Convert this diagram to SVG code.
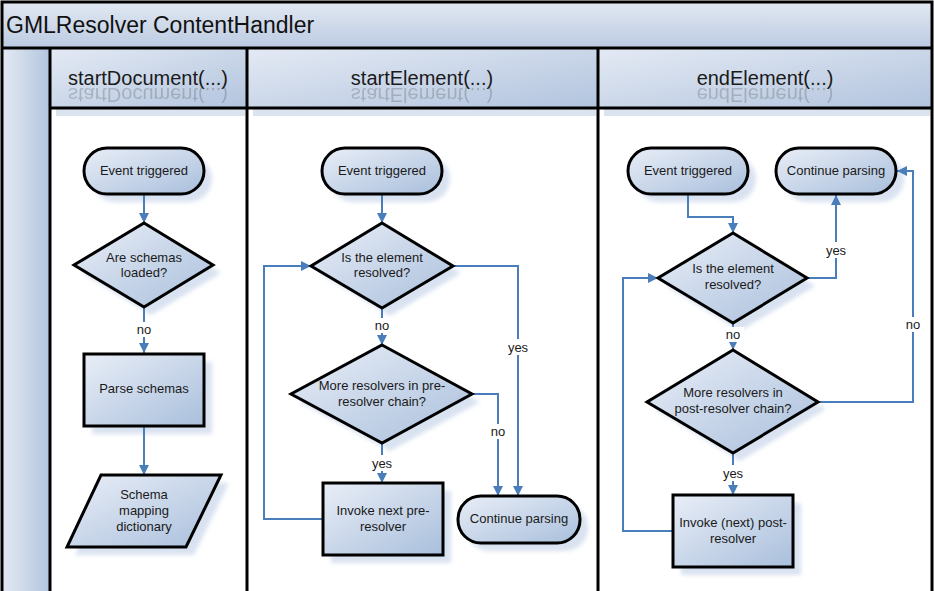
<svg xmlns="http://www.w3.org/2000/svg" width="934" height="591" viewBox="0 0 934 591">
<defs>
  <linearGradient id="gNode" x1="0" y1="0" x2="1" y2="1">
    <stop offset="0" stop-color="#e9eef7"/>
    <stop offset="1" stop-color="#a9bfdc"/>
  </linearGradient>
  <linearGradient id="gTitle" x1="0" y1="0" x2="0" y2="1">
    <stop offset="0" stop-color="#e1e8f2"/>
    <stop offset="1" stop-color="#bccbe2"/>
  </linearGradient>
  <linearGradient id="gHead" x1="0" y1="0" x2="1" y2="1">
    <stop offset="0" stop-color="#e4eaf4"/>
    <stop offset="1" stop-color="#b2c4de"/>
  </linearGradient>
  <linearGradient id="gStrip" x1="0" y1="0" x2="1" y2="0">
    <stop offset="0" stop-color="#e3e9f3"/>
    <stop offset="1" stop-color="#b3c5de"/>
  </linearGradient>
  <filter id="blur" x="-20%" y="-20%" width="140%" height="140%">
    <feGaussianBlur stdDeviation="2"/>
  </filter>
  <marker id="arr" markerUnits="userSpaceOnUse" markerWidth="11" markerHeight="11" refX="10" refY="5" orient="auto">
    <path d="M0,0 L10,5 L0,10 z" fill="#4a7ebb"/>
  </marker>
  <clipPath id="clipRefl" clipPathUnits="userSpaceOnUse">
    <rect x="52" y="87" width="878" height="20"/>
  </clipPath>
</defs>
<style>
  .frame { fill: none; stroke: #000; stroke-width: 3; }
  .node { fill: url(#gNode); stroke: #000; stroke-width: 3; }
  .shadow { fill: #c9d6ea; opacity: 0.7; filter: url(#blur); }
  .t { font-family: "Liberation Sans", Arial, sans-serif; font-size: 13px; fill: #1a1a1a; text-anchor: middle; }
  .lbl { font-family: "Liberation Sans", Arial, sans-serif; font-size: 13px; fill: #1a1a1a; text-anchor: middle; }
  .head { font-family: "Liberation Sans", Arial, sans-serif; font-size: 20px; fill: #1a1a1a; text-anchor: middle; }
  .title { font-family: "Liberation Sans", Arial, sans-serif; font-size: 23px; fill: #111; }
  .ca { fill: none; stroke: #4a7ebb; stroke-width: 2; marker-end: url(#arr); }
  .bg { fill: #fff; }
  .refl { opacity: 0.2; }
</style>

<rect x="0" y="0" width="934" height="591" fill="#fff"/>

<g id="pool">
  <rect x="2" y="2" width="930" height="46" fill="url(#gTitle)"/>
  <rect x="3" y="48" width="46" height="545" fill="url(#gStrip)"/>
  <rect x="50" y="48" width="197" height="60" fill="url(#gHead)"/>
  <rect x="247" y="48" width="351" height="60" fill="url(#gHead)"/>
  <rect x="598" y="48" width="334" height="60" fill="url(#gHead)"/>
  <rect x="56" y="109" width="189" height="7" fill="#dbe3ef"/>
  <rect x="253" y="109" width="343" height="7" fill="#dbe3ef"/>
  <rect x="604" y="109" width="326" height="7" fill="#dbe3ef"/>
  <text x="6" y="33" class="title">GMLResolver ContentHandler</text>
  <text id="h1" x="148" y="85" class="head">startDocument(...)</text>
  <text id="h2" x="422" y="85" class="head">startElement(...)</text>
  <text id="h3" x="765" y="85" class="head">endElement(...)</text>
  <g class="refl" clip-path="url(#clipRefl)">
    <g transform="translate(0,173) scale(1,-1)">
      <use href="#h1"/>
      <use href="#h2"/>
      <use href="#h3"/>
    </g>
  </g>
  <rect x="2" y="2" width="930" height="600" class="frame" stroke-width="2.5"/>
  <line x1="2" y1="48" x2="932" y2="48" class="frame"/>
  <line x1="50" y1="48" x2="50" y2="593" class="frame"/>
  <line x1="247" y1="48" x2="247" y2="593" class="frame"/>
  <line x1="598" y1="48" x2="598" y2="593" class="frame"/>
  <line x1="50" y1="108" x2="932" y2="108" class="frame"/>
</g>

<g id="shadows">
  <rect x="92" y="156" width="120" height="46" rx="23" class="shadow"/>
  <polygon points="151,231 221,273 151,315 82,273" class="shadow"/>
  <rect x="92" y="362" width="120" height="72" class="shadow"/>
  <polygon points="109,483 229,483 194,555 75,555" class="shadow"/>

  <rect x="330" y="156" width="120" height="46" rx="23" class="shadow"/>
  <polygon points="390,231 461,273 390,316 319,273" class="shadow"/>
  <polygon points="390,353 480,402 390,451 299,402" class="shadow"/>
  <rect x="331" y="491" width="120" height="72" class="shadow"/>
  <rect x="466" y="504" width="122" height="47" rx="23" class="shadow"/>

  <rect x="636" y="156" width="120" height="46" rx="23" class="shadow"/>
  <rect x="784" y="156" width="120" height="46" rx="23" class="shadow"/>
  <polygon points="740,241 815,286 740,331 666,286" class="shadow"/>
  <polygon points="740,358 826,409 740,461 655,409" class="shadow"/>
  <rect x="681" y="503" width="120" height="72" class="shadow"/>
</g>

<g id="connectors">
  <path d="M144,194 L144,223" class="ca"/>
  <path d="M144,307 L144,353" class="ca"/>
  <path d="M144,426 L144,475" class="ca"/>
  <path d="M382,194 L382,223" class="ca"/>
  <path d="M382,308 L382,345" class="ca"/>
  <path d="M382,443 L382,483" class="ca"/>
  <path d="M323,519 L264,519 L264,266 L311,266" class="ca"/>
  <path d="M453,266 L518,266 L518,496" class="ca"/>
  <path d="M472,394 L498,394 L498,496" class="ca"/>
  <path d="M688,194 L688,217 L733,217 L733,233" class="ca"/>
  <path d="M807,278 L836,278 L836,195" class="ca"/>
  <path d="M733,323 L733,350" class="ca"/>
  <path d="M818,402 L913,402 L913,171 L897,171" class="ca"/>
  <path d="M733,453 L733,495" class="ca"/>
  <path d="M673,531 L623,531 L623,278 L658,278" class="ca"/>
</g>

<g id="labels">
  <rect x="133" y="322" width="22" height="15" class="bg"/>
  <text x="144" y="334" class="lbl">no</text>
  <rect x="371" y="318" width="22" height="15" class="bg"/>
  <text x="382" y="330" class="lbl">no</text>
  <rect x="369" y="455" width="26" height="16" class="bg"/>
  <text x="382" y="468" class="lbl">yes</text>
  <rect x="505" y="339" width="26" height="16" class="bg"/>
  <text x="518" y="352" class="lbl">yes</text>
  <rect x="487" y="424" width="22" height="15" class="bg"/>
  <text x="498" y="436" class="lbl">no</text>
  <rect x="823" y="242" width="26" height="16" class="bg"/>
  <text x="836" y="255" class="lbl">yes</text>
  <rect x="722" y="327" width="22" height="15" class="bg"/>
  <text x="733" y="339" class="lbl">no</text>
  <rect x="902" y="317" width="22" height="15" class="bg"/>
  <text x="913" y="329" class="lbl">no</text>
  <rect x="720" y="465" width="26" height="16" class="bg"/>
  <text x="733" y="478" class="lbl">yes</text>
</g>

<g id="n1-event">
  <rect x="84" y="148" width="120" height="46" rx="23" class="node"/>
  <text x="144" y="175" class="t">Event triggered</text>
</g>
<g id="n1-loaded">
  <polygon points="144,223 213,265 144,307 74,265" class="node"/>
  <text x="144" y="262" class="t">Are schemas</text>
  <text x="144" y="277" class="t">loaded?</text>
</g>
<g id="n1-parse">
  <rect x="84" y="354" width="120" height="72" class="node"/>
  <text x="144" y="393" class="t">Parse schemas</text>
</g>
<g id="n1-dict">
  <polygon points="101,475 221,475 186,547 67,547" class="node"/>
  <text x="144" y="499" class="t">Schema</text>
  <text x="144" y="515" class="t">mapping</text>
  <text x="144" y="531" class="t">dictionary</text>
</g>

<g id="n2-event">
  <rect x="322" y="148" width="120" height="46" rx="23" class="node"/>
  <text x="382" y="175" class="t">Event triggered</text>
</g>
<g id="n2-resolved">
  <polygon points="382,223 453,266 382,308 311,266" class="node"/>
  <text x="382" y="262" class="t">Is the element</text>
  <text x="382" y="277" class="t">resolved?</text>
</g>
<g id="n2-more">
  <polygon points="382,345 472,394 382,443 291,394" class="node"/>
  <text x="382" y="390" class="t">More resolvers in pre-</text>
  <text x="382" y="406" class="t">resolver chain?</text>
</g>
<g id="n2-invoke">
  <rect x="323" y="483" width="120" height="72" class="node"/>
  <text x="383" y="515" class="t">Invoke next pre-</text>
  <text x="383" y="531" class="t">resolver</text>
</g>
<g id="n2-continue">
  <rect x="458" y="496" width="122" height="47" rx="23" class="node"/>
  <text x="519" y="523" class="t">Continue parsing</text>
</g>

<g id="n3-event">
  <rect x="628" y="148" width="120" height="46" rx="23" class="node"/>
  <text x="688" y="175" class="t">Event triggered</text>
</g>
<g id="n3-continue">
  <rect x="776" y="148" width="120" height="46" rx="23" class="node"/>
  <text x="836" y="175" class="t">Continue parsing</text>
</g>
<g id="n3-resolved">
  <polygon points="733,233 807,278 733,323 658,278" class="node"/>
  <text x="733" y="273" class="t">Is the element</text>
  <text x="733" y="289" class="t">resolved?</text>
</g>
<g id="n3-more">
  <polygon points="733,350 818,402 733,453 647,402" class="node"/>
  <text x="733" y="397" class="t">More resolvers in</text>
  <text x="733" y="413" class="t">post-resolver chain?</text>
</g>
<g id="n3-invoke">
  <rect x="673" y="495" width="120" height="72" class="node"/>
  <text x="733" y="527" class="t">Invoke (next) post-</text>
  <text x="733" y="543" class="t">resolver</text>
</g>
</svg>
